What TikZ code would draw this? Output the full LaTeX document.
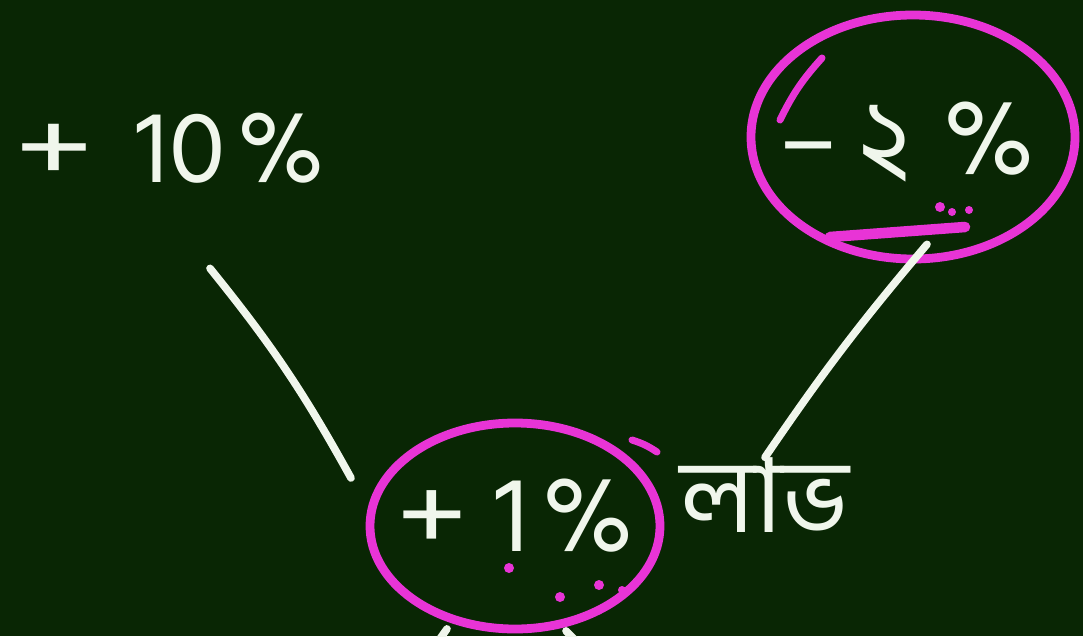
\documentclass[tikz,border=0pt]{standalone}
\usepackage{fontspec}
\newfontfamily\bn[Script=Bengali]{Hind Siliguri}
\usetikzlibrary{calc}
\definecolor{board}{RGB}{9,38,4}
\definecolor{chalkwhite}{RGB}{240,246,236}
\definecolor{pinkmark}{RGB}{232,52,214}
\begin{document}
\begin{tikzpicture}[x=0.03cm,y=-0.03cm,
  chalk/.style={text=chalkwhite, inner sep=0pt},
  link/.style={draw=chalkwhite, line width=6.5pt, line cap=round},
  ring/.style={draw=pinkmark, line width=7.5pt},
  dotmark/.style={fill=pinkmark}]
\fill[board] (0,0) rectangle (1083,636);
\useasboundingbox (0,0) rectangle (1083,636);
\clip (0,0) rectangle (1083,636);
% texts
\node[chalk, font=\bn\fontsize{88}{90}\selectfont] (a) at (170,148) {\scalebox{1.4}[1]{+}\kern0.4em10\kern0.12em\%};
\node[chalk, font=\bn\fontsize{92}{94}\selectfont] (b) at (907,142) {–\kern0.2em২\kern0.3em\%};
\node[chalk, font=\bn\fontsize{92}{100}\selectfont] (c) at (515,516) {\scalebox{1.2}[1]{+}\kern0.25em1\kern0.12em\%};
\node[chalk, font=\bn\fontsize{88}{90}\selectfont] (d) at (765,495) {লাভ};
% circles
\draw[ring] (913,137) ellipse [x radius=162, y radius=122];
\draw[ring, line cap=round, line width=6pt] (822,58) to[bend right=8] (780,120);
\draw[ring] (515,526) ellipse [x radius=145, y radius=103];
\draw[ring, line cap=round, line width=6pt] (632,440) to[bend left=8] (657,452);
% underline and dots
\draw[pinkmark, line width=9pt, line cap=round] (830,237) -- (965,227);
\fill[dotmark] (940,207) circle [radius=5];
\fill[dotmark] (952,212) circle [radius=4];
\fill[dotmark] (969,210) circle [radius=4];
\fill[dotmark] (509,568) circle [radius=5];
\fill[dotmark] (560,597) circle [radius=5];
\fill[dotmark] (599,585) circle [radius=5];
\fill[dotmark] (622,590) circle [radius=4];
% connectors
\draw[link] ($(a.south)+(40,85)$) to[bend left=5] ($(c.west)+(-45,-38)$);
\draw[link] ($(b.south)+(20,62)$) to[bend right=3] (d.north);
\coordinate (down1) at (425,660);
\coordinate (down2) at (595,660);
\draw[link] ($(c.south)+(-68,76)$) -- (down1);
\draw[link] ($(c.south)+(51,78)$) -- (down2);
\end{tikzpicture}
\end{document}
